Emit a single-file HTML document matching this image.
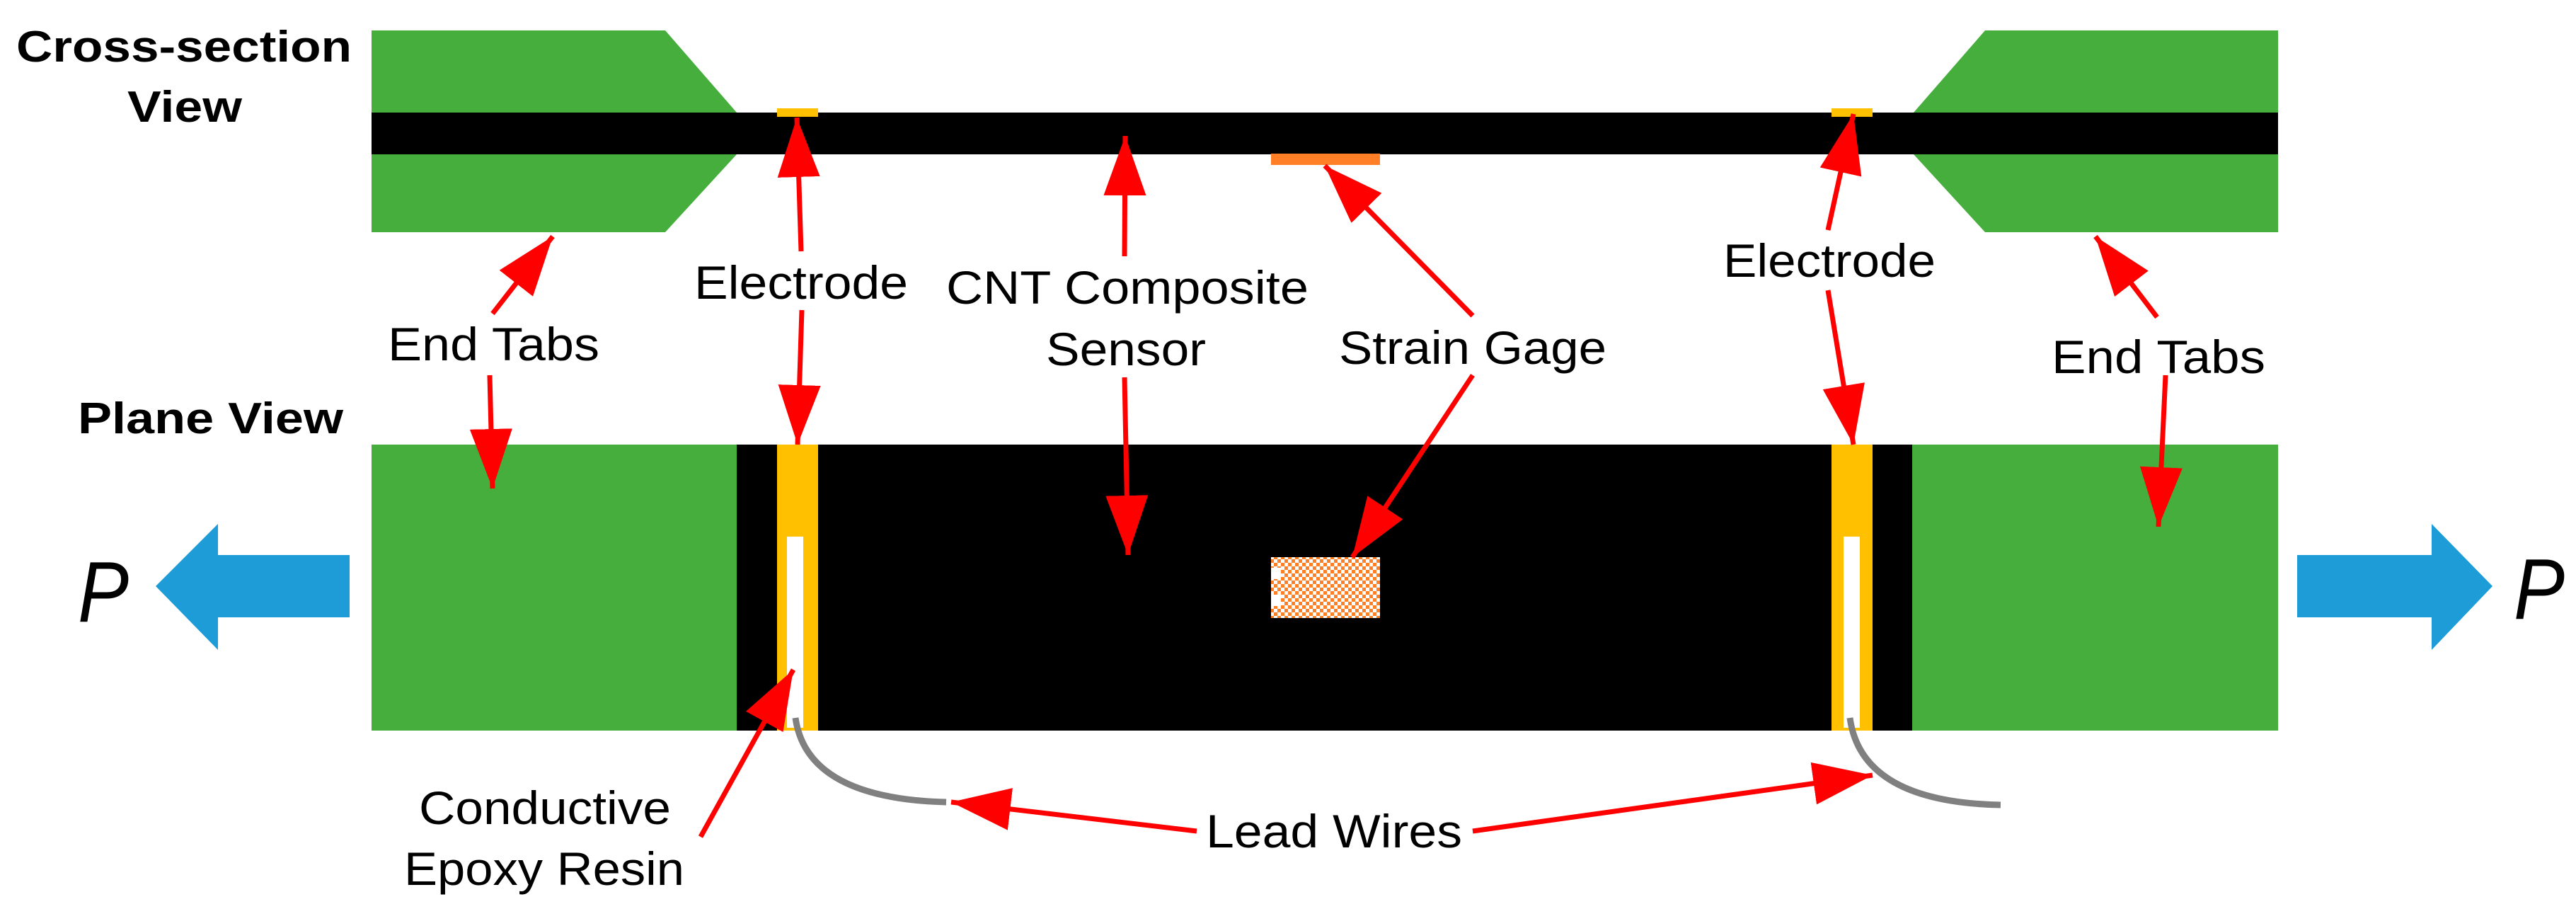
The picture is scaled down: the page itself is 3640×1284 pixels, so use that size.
<!DOCTYPE html>
<html><head><style>html,body{margin:0;padding:0;background:#fff;overflow:hidden}svg{display:block}</style></head>
<body>
<svg width="3640" height="1284" viewBox="0 0 3640 1284" xmlns="http://www.w3.org/2000/svg">
<defs>
<marker id="ah" markerUnits="userSpaceOnUse" markerWidth="84" markerHeight="60" refX="84" refY="30" orient="auto">
<path d="M0,0 L84,30 L0,60 Z" fill="#ff0000"/>
</marker>
<pattern id="chk" width="10" height="10" patternUnits="userSpaceOnUse">
<rect width="10" height="10" fill="#ff7f27"/>
<rect width="5" height="5" fill="#fff"/><rect x="5" y="5" width="5" height="5" fill="#fff"/>
</pattern>
</defs>
<polygon points="525,43 940,43 1041,159 1041,218 940,328 525,328" fill="#46ae3d"/>
<polygon points="3219,43 2805,43 2704,159 2704,218 2805,328 3219,328" fill="#46ae3d"/>
<rect x="525" y="159" width="2694" height="59" fill="#000"/>
<rect x="1098" y="153" width="58" height="12" fill="#ffc000"/>
<rect x="2588" y="153" width="58" height="12" fill="#ffc000"/>
<rect x="1796" y="217" width="154" height="16" fill="#ff7f27"/>
<rect x="525" y="628" width="516" height="404" fill="#46ae3d"/>
<rect x="1041" y="628" width="1661" height="404" fill="#000"/>
<rect x="2702" y="628" width="517" height="404" fill="#46ae3d"/>
<rect x="1098" y="628" width="58" height="404" fill="#ffc000"/>
<rect x="2588" y="628" width="58" height="404" fill="#ffc000"/>
<rect x="1112" y="758" width="23" height="270" fill="#fff"/>
<rect x="2605" y="758" width="23" height="270" fill="#fff"/>
<rect x="1796" y="787" width="154" height="86" fill="url(#chk)"/>
<rect x="1796" y="802" width="14" height="16" fill="#fff"/>
<rect x="1796" y="840" width="14" height="16" fill="#fff"/>
<path d="M1124,1014 Q1140,1128 1337,1133" fill="none" stroke="#808080" stroke-width="9"/>
<path d="M2614,1014 Q2630,1133 2827,1137" fill="none" stroke="#808080" stroke-width="9"/>
<polygon points="220,828 308,740 308,784 494,784 494,872 308,872 308,918" fill="#1e9cd7"/>
<polygon points="3522,828 3436,740 3436,784 3246,784 3246,872 3436,872 3436,918" fill="#1e9cd7"/>
<g stroke="#ff0000" stroke-width="7" fill="none" marker-end="url(#ah)">
<line x1="696" y1="443" x2="781" y2="334"/>
<line x1="692" y1="530" x2="696" y2="690"/>
<line x1="1132" y1="355" x2="1126" y2="166"/>
<line x1="1133" y1="438" x2="1127" y2="628"/>
<line x1="1589" y1="362" x2="1590" y2="192"/>
<line x1="1589" y1="533" x2="1594" y2="784"/>
<line x1="990" y1="1182" x2="1121" y2="946"/>
<line x1="1691" y1="1174" x2="1344" y2="1133"/>
<line x1="2081" y1="446" x2="1872" y2="234"/>
<line x1="2081" y1="530" x2="1911" y2="787"/>
<line x1="2583" y1="325" x2="2619" y2="161"/>
<line x1="2583" y1="410" x2="2619" y2="628"/>
<line x1="3048" y1="448" x2="2961" y2="334"/>
<line x1="3060" y1="530" x2="3050" y2="744"/>
<line x1="2081" y1="1174" x2="2646" y2="1095"/>
</g>
<g font-family="Liberation Sans, sans-serif" fill="#000">
<g font-weight="bold" font-size="62">
<text x="23" y="87" textLength="474" lengthAdjust="spacingAndGlyphs">Cross-section</text>
<text x="180" y="172" textLength="162" lengthAdjust="spacingAndGlyphs">View</text>
<text x="110" y="612" textLength="375" lengthAdjust="spacingAndGlyphs">Plane View</text>
</g>
<g font-size="66">
<text x="981" y="422" textLength="302" lengthAdjust="spacingAndGlyphs">Electrode</text>
<text x="2435" y="391" textLength="300" lengthAdjust="spacingAndGlyphs">Electrode</text>
<text x="548" y="509" textLength="299" lengthAdjust="spacingAndGlyphs">End Tabs</text>
<text x="2899" y="527" textLength="302" lengthAdjust="spacingAndGlyphs">End Tabs</text>
<text x="1337" y="429" textLength="512" lengthAdjust="spacingAndGlyphs">CNT Composite</text>
<text x="1478" y="516" textLength="226" lengthAdjust="spacingAndGlyphs">Sensor</text>
<text x="1892" y="514" textLength="378" lengthAdjust="spacingAndGlyphs">Strain Gage</text>
<text x="592" y="1164" textLength="356" lengthAdjust="spacingAndGlyphs">Conductive</text>
<text x="571" y="1250" textLength="396" lengthAdjust="spacingAndGlyphs">Epoxy Resin</text>
<text x="1704" y="1197" textLength="362" lengthAdjust="spacingAndGlyphs">Lead Wires</text>
</g>
<text x="110" y="878" font-size="122" font-style="italic" textLength="72" lengthAdjust="spacingAndGlyphs">P</text>
<text x="3552" y="874" font-size="122" font-style="italic" textLength="72" lengthAdjust="spacingAndGlyphs">P</text>
</g>
</svg>
</body></html>
